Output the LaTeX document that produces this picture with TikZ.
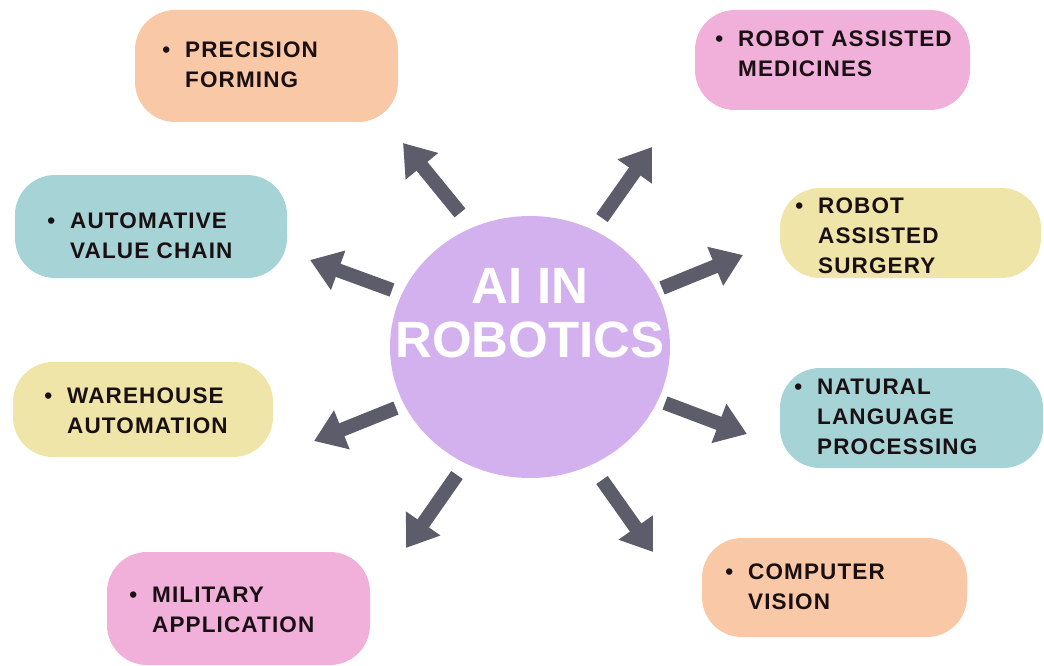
\documentclass[tikz,border=0pt]{standalone}
\usepackage{fontspec}
\setmainfont{Liberation Sans}
\newfontfamily\boxfont[LetterSpace=5]{Liberation Sans}
\usetikzlibrary{arrows.meta,shapes.geometric}
\definecolor{peach}{RGB}{249,200,167}
\definecolor{pinkbox}{RGB}{240,176,218}
\definecolor{tealbox}{RGB}{166,211,213}
\definecolor{yellowbox}{RGB}{239,229,169}
\definecolor{lavender}{RGB}{211,177,239}
\definecolor{arrowgray}{RGB}{93,92,107}
\definecolor{inktext}{RGB}{26,16,20}
\tikzset{
  topic/.style={rounded corners=40pt, inner sep=0pt, draw=none},
  topictext/.style={anchor=base west, inner sep=0pt, text=inktext,
    font=\boxfont\bfseries\fontsize{22.5}{30}\selectfont},
  spoke/.style={draw=arrowgray, line width=14pt,
    -{Triangle[length=30pt,width=40pt]}},
}
\newcommand{\bul}{\llap{\textbullet\hspace{15pt}}}
\begin{document}
\begin{tikzpicture}[x=1pt,y=-1pt]
\useasboundingbox (0,0) rectangle (1044,666);
% central ellipse
\node[ellipse, fill=lavender, minimum width=280pt, minimum height=262pt, inner sep=0pt] (hub) at (530,347) {};
\node[anchor=base, inner sep=0pt, text=white, font=\bfseries\fontsize{51}{54}\selectfont] (hubtext) at (530,303)
  {\begin{tabular}[t]{@{}c@{}}AI IN\\ROBOTICS\end{tabular}};
% boxes
\node[topic, fill=peach, minimum width=263pt, minimum height=112pt] (b1) at (266.5,66) {};
\node[topic, fill=pinkbox, minimum width=275pt, minimum height=100pt] (b2) at (832.5,60) {};
\node[topic, fill=tealbox, minimum width=272pt, minimum height=103pt] (b3) at (151,226.5) {};
\node[topic, fill=yellowbox, minimum width=261pt, minimum height=90pt] (b4) at (910.5,233) {};
\node[topic, fill=yellowbox, minimum width=260pt, minimum height=95pt] (b5) at (143,409.5) {};
\node[topic, fill=tealbox, minimum width=263pt, minimum height=100pt] (b6) at (911.5,418) {};
\node[topic, fill=pinkbox, minimum width=263pt, minimum height=113pt] (b7) at (238.5,608.5) {};
\node[topic, fill=peach, minimum width=265pt, minimum height=99pt] (b8) at (834.5,587.5) {};
% box texts
\node[topictext] (t1) at (185,58) {\begin{tabular}[t]{@{}l@{}}\bul PRECISION\\FORMING\end{tabular}};
\node[topictext] (t2) at (738,47) {\begin{tabular}[t]{@{}l@{}}\bul ROBOT ASSISTED\\MEDICINES\end{tabular}};
\node[topictext] (t3) at (70,228) {\begin{tabular}[t]{@{}l@{}}\bul AUTOMATIVE\\VALUE CHAIN\end{tabular}};
\node[topictext] (t4) at (818,213) {\begin{tabular}[t]{@{}l@{}}\bul ROBOT\\ASSISTED\\SURGERY\end{tabular}};
\node[topictext] (t5) at (67,403) {\begin{tabular}[t]{@{}l@{}}\bul WAREHOUSE\\AUTOMATION\end{tabular}};
\node[topictext] (t6) at (817,394) {\begin{tabular}[t]{@{}l@{}}\bul NATURAL\\LANGUAGE\\PROCESSING\end{tabular}};
\node[topictext] (t7) at (152,602) {\begin{tabular}[t]{@{}l@{}}\bul MILITARY\\APPLICATION\end{tabular}};
\node[topictext] (t8) at (748,579) {\begin{tabular}[t]{@{}l@{}}\bul COMPUTER\\VISION\end{tabular}};
% arrow ends
\coordinate (s1) at (460,213); \coordinate (e1) at (403,143);
\coordinate (s2) at (602,218); \coordinate (e2) at (652,147);
\coordinate (s3) at (392,290); \coordinate (e3) at (310,260);
\coordinate (s4) at (662,288); \coordinate (e4) at (743,255);
\coordinate (s5) at (396,408); \coordinate (e5) at (314,441);
\coordinate (s6) at (665,403); \coordinate (e6) at (747,434);
\coordinate (s7) at (457,475); \coordinate (e7) at (406,548);
\coordinate (s8) at (602,480); \coordinate (e8) at (653,552);
\foreach \i in {1,...,8} { \draw[spoke] (s\i) -- (e\i); }
\end{tikzpicture}
\end{document}
